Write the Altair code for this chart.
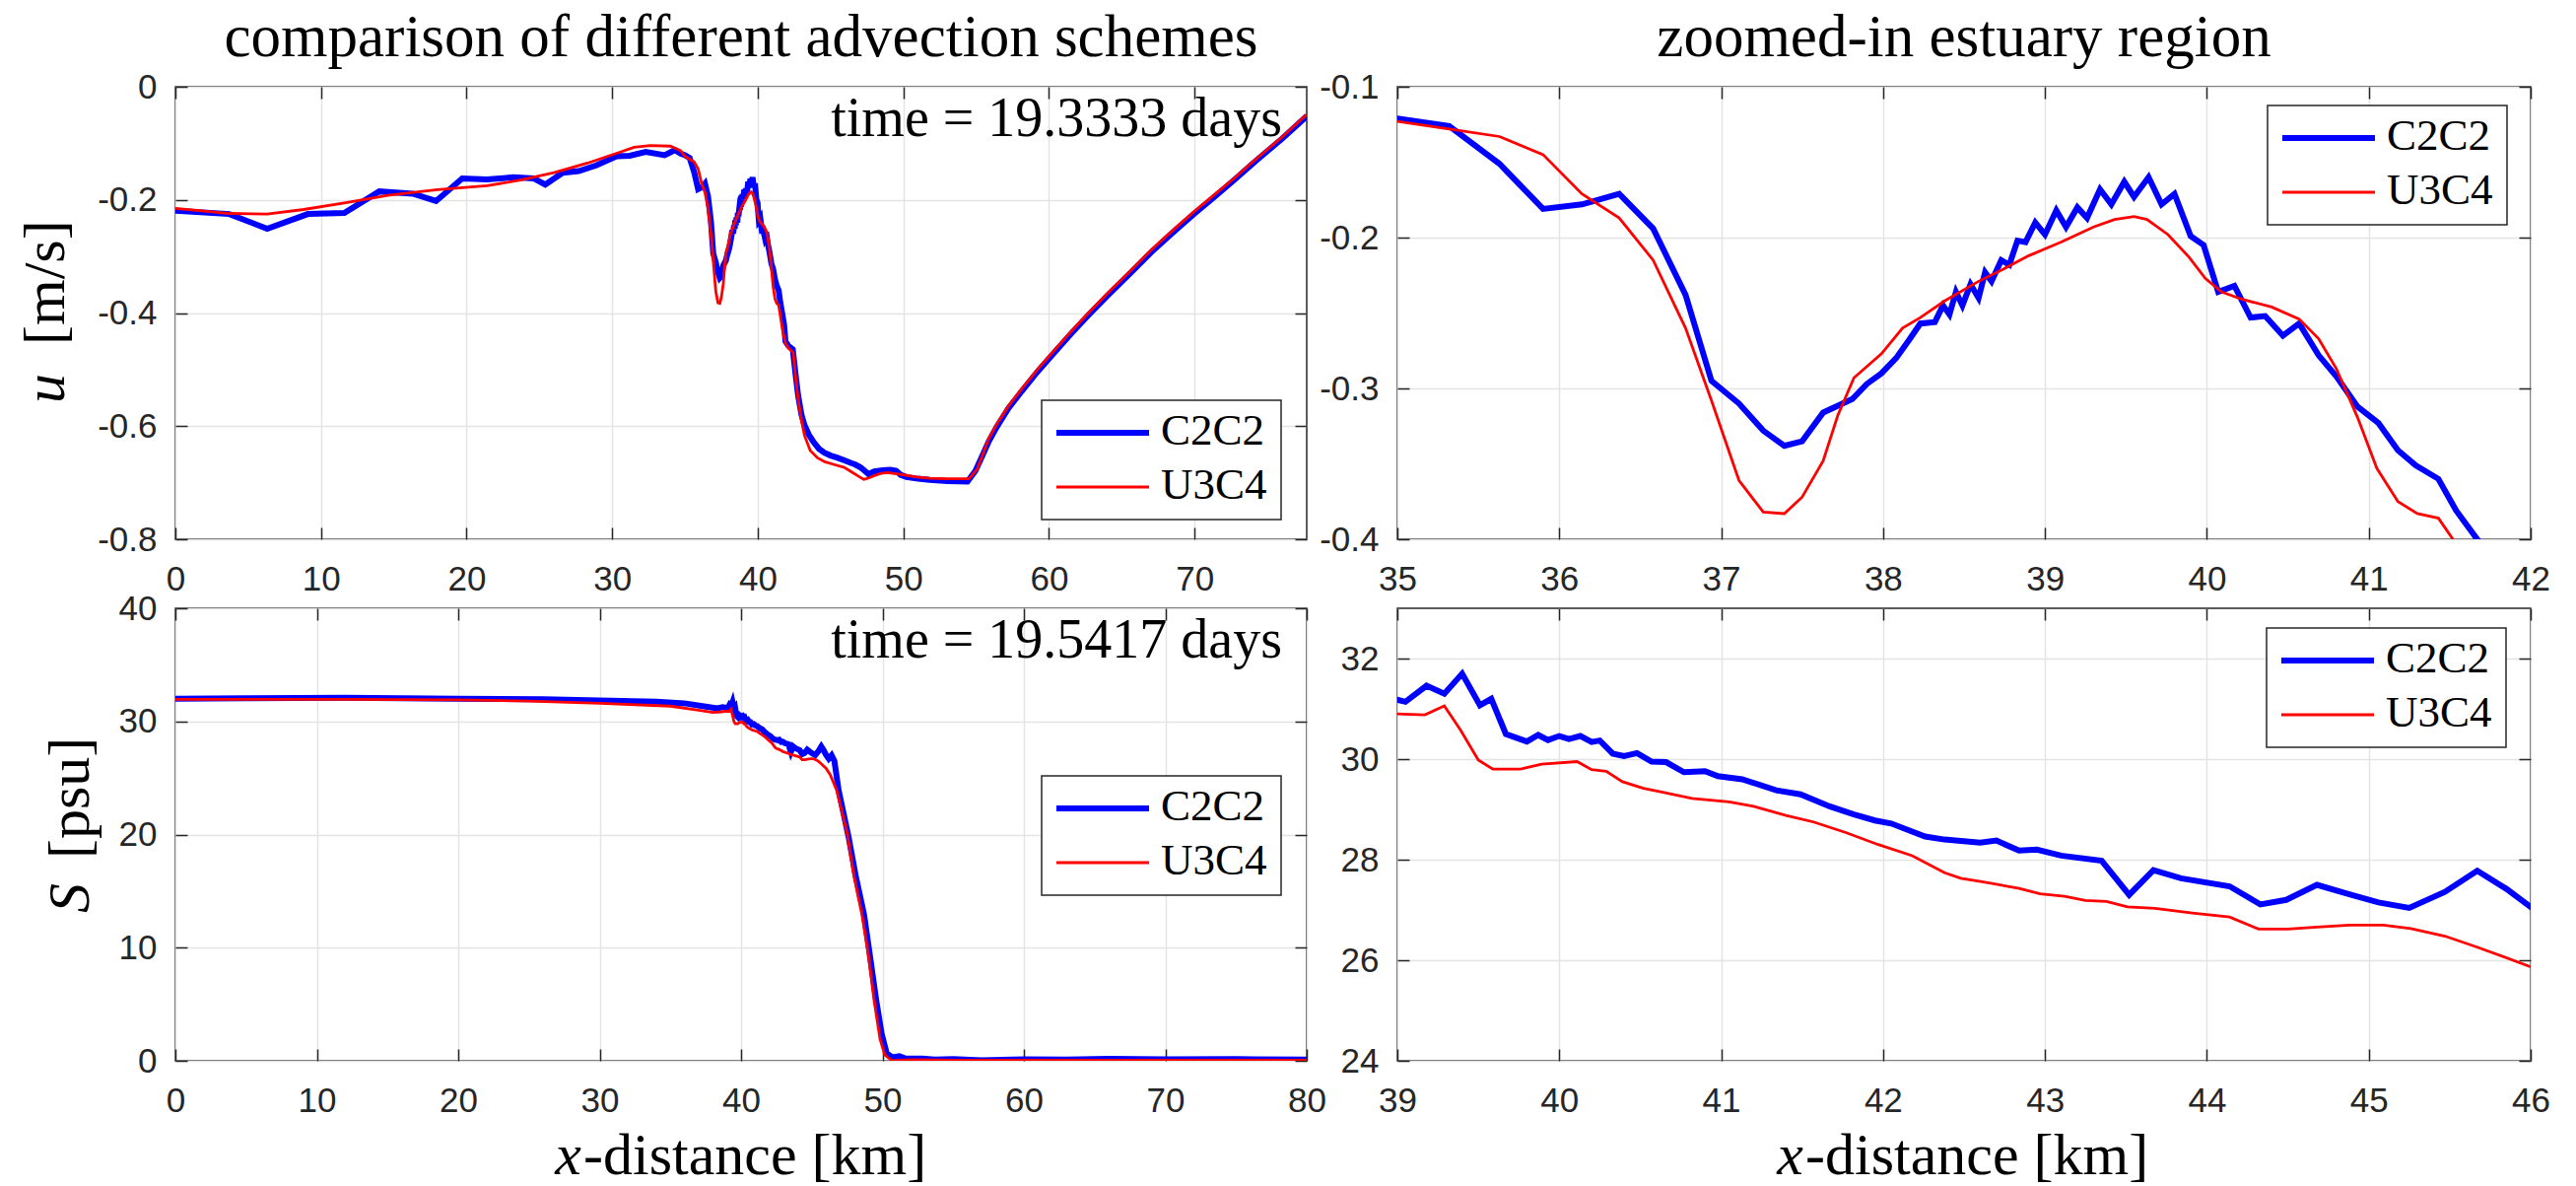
import altair as alt
import pandas as pd

# ---------------- data ----------------
# depth-averaged velocity u [m/s] along the channel, scheme C2C2
u_c2c2_x = [0, 3.7, 6.3, 9.1, 11.6, 14.0, 16.3, 17.9, 19.7, 21.4, 23.2, 24.6, 25.4, 26.6,
            27.7, 28.9, 30.3, 31.2, 32.3, 33.6, 34.3, 34.7,
            35.0, 35.32, 35.63, 35.9, 36.14, 36.37, 36.58, 36.78, 36.94, 37.11, 37.26, 37.39,
            37.5, 37.63, 37.81, 37.9, 37.99, 38.08, 38.16, 38.23, 38.32, 38.37, 38.41, 38.45,
            38.49, 38.54, 38.59, 38.63, 38.67, 38.73, 38.78, 38.83, 38.88, 38.94, 39.0, 39.07,
            39.13, 39.2, 39.26, 39.34, 39.41, 39.49, 39.55, 39.64, 39.72, 39.8, 39.9, 39.98,
            40.07, 40.12, 40.17, 40.27, 40.36, 40.47, 40.57, 40.69, 40.8, 40.93, 41.06, 41.18,
            41.29, 41.43, 41.54, 41.67, 41.8, 41.9, 42.1, 42.4, 42.6, 42.77, 43.0, 43.2, 43.5,
            43.8, 44.2, 44.57, 45.0, 45.48, 46.0, 46.38, 46.7, 47.05, 47.3, 47.6, 48.0, 48.6,
            49.1, 49.5, 49.8, 50.2, 51.0, 51.8, 53.0, 54.4, 54.95, 55.5, 55.86, 56.4, 57.2,
            58.1, 59.2, 60.4, 61.5, 62.7, 64.1, 65.6, 67.0, 68.4, 69.9, 71.3, 72.8, 74.2,
            76.0, 77.7]
u_c2c2 = [-0.219, -0.225, -0.251, -0.225, -0.223, -0.185, -0.189, -0.202, -0.162, -0.164,
          -0.160, -0.162, -0.173, -0.152, -0.149, -0.139, -0.123, -0.122, -0.115, -0.121,
          -0.112, -0.118,
          -0.121, -0.126, -0.151, -0.181, -0.178, -0.171, -0.194, -0.238, -0.295, -0.310,
          -0.328, -0.338, -0.335, -0.316, -0.307, -0.297, -0.290, -0.280, -0.268, -0.257,
          -0.256, -0.245, -0.251, -0.236, -0.245, -0.231, -0.240, -0.223, -0.229, -0.215,
          -0.218, -0.202, -0.203, -0.190, -0.198, -0.182, -0.193, -0.180, -0.187, -0.168,
          -0.178, -0.163, -0.173, -0.160, -0.178, -0.171, -0.199, -0.205, -0.236, -0.234,
          -0.232, -0.253, -0.252, -0.265, -0.257, -0.278, -0.292, -0.312, -0.323, -0.341,
          -0.351, -0.360, -0.381, -0.400, -0.420, -0.450, -0.458, -0.464, -0.510, -0.546,
          -0.580, -0.598, -0.615, -0.627, -0.640, -0.647, -0.652, -0.656, -0.661, -0.665,
          -0.668, -0.673, -0.678, -0.685, -0.680, -0.678, -0.677, -0.679, -0.686, -0.690,
          -0.693, -0.695, -0.697, -0.698, -0.679, -0.648, -0.627, -0.602, -0.569, -0.539,
          -0.504, -0.469, -0.437, -0.404, -0.367, -0.329, -0.293, -0.260, -0.226, -0.196,
          -0.163, -0.131, -0.092, -0.052]

# depth-averaged velocity u [m/s], scheme U3C4
u_u3c4_x = [0, 2.0, 3.7, 6.3, 8.8, 11.7, 14.6, 18.0, 21.4, 23.7, 26.0, 28.3, 30.6, 31.5,
            32.6, 34.0, 34.7, 35.0, 35.32, 35.63, 35.9, 36.14, 36.37, 36.58, 36.78, 36.94,
            37.11, 37.26, 37.39, 37.5, 37.63, 37.72, 37.82, 37.99, 38.12, 38.23, 38.38, 38.59,
            38.74, 38.9, 39.1, 39.3, 39.43, 39.55, 39.63, 39.76, 39.89, 39.99, 40.09, 40.22,
            40.4, 40.57, 40.69, 40.8, 40.93, 41.05, 41.18, 41.3, 41.43, 41.52, 41.7, 41.9,
            42.1, 42.43, 42.6, 42.77, 43.0, 43.2, 43.6, 44.1, 44.6, 45.25, 45.93, 46.5, 47.0,
            47.28, 47.6, 47.96, 48.4, 48.86, 49.4, 50.0, 50.9, 51.8, 53.0, 54.5, 55.07, 55.86,
            56.4, 57.2, 58.1, 59.2, 60.4, 61.5, 62.7, 64.1, 65.6, 67.0, 68.4, 69.9, 71.3,
            72.8, 74.2, 76.0, 77.7]
u_u3c4 = [-0.215, -0.220, -0.224, -0.225, -0.217, -0.205, -0.192, -0.182, -0.175, -0.165,
          -0.152, -0.135, -0.115, -0.107, -0.104, -0.105, -0.113, -0.123, -0.128, -0.133,
          -0.145, -0.171, -0.187, -0.215, -0.260, -0.308, -0.361, -0.382, -0.383, -0.372,
          -0.348, -0.318, -0.293, -0.277, -0.260, -0.253, -0.242, -0.229, -0.221, -0.212,
          -0.203, -0.193, -0.188, -0.186, -0.188, -0.198, -0.213, -0.227, -0.236, -0.241,
          -0.246, -0.254, -0.267, -0.287, -0.319, -0.353, -0.375, -0.383, -0.386, -0.400,
          -0.430, -0.453, -0.462, -0.470, -0.515, -0.552, -0.590, -0.616, -0.643, -0.656,
          -0.663, -0.668, -0.673, -0.682, -0.690, -0.694, -0.692, -0.688, -0.684, -0.682,
          -0.684, -0.686, -0.690, -0.692, -0.693, -0.693, -0.676, -0.622, -0.597, -0.565,
          -0.535, -0.500, -0.465, -0.433, -0.400, -0.363, -0.325, -0.289, -0.256, -0.222,
          -0.192, -0.160, -0.128, -0.089, -0.049]

# salinity S [psu], scheme C2C2
s_c2c2_x = [0, 5, 12, 20, 26, 30, 34, 36, 37.5, 38.3, 38.7,
            39.0, 39.05, 39.18, 39.29, 39.40, 39.51, 39.58, 39.67, 39.8, 39.87, 39.93, 40.0,
            40.06, 40.13, 40.2, 40.25, 40.33, 40.4, 40.48, 40.57, 40.66, 40.77, 40.9, 40.98,
            41.13, 41.34, 41.49, 41.67, 41.82, 41.95, 42.05, 42.26, 42.38, 42.6, 42.7, 42.84,
            42.95, 43.1, 43.35, 43.52, 43.67, 43.84, 44.14, 44.33, 44.49, 44.68, 44.88, 45.06,
            45.25, 45.47, 45.67, 45.85, 46.0, 46.2, 46.4, 46.6, 46.9, 47.6, 48.1, 48.7, 49.1,
            49.55, 49.94, 50.3, 50.7, 51.2, 51.65, 52.8, 53.7, 55, 57, 60, 63, 66, 70, 75, 80]
s_c2c2 = [32.0, 32.05, 32.1, 32.0, 31.95, 31.85, 31.75, 31.6, 31.3, 31.15, 31.25,
          31.18, 31.14, 31.46, 31.30, 31.70, 31.07, 31.2, 30.5, 30.35, 30.48, 30.38, 30.46,
          30.40, 30.46, 30.34, 30.37, 30.11, 30.06, 30.12, 29.95, 29.94, 29.74, 29.76, 29.66,
          29.6, 29.38, 29.30, 29.06, 28.9, 28.78, 28.72, 28.46, 28.40, 28.34, 28.38, 28.18,
          28.2, 28.08, 27.98, 27.3, 27.79, 27.63, 27.47, 27.11, 27.2, 27.5, 27.31, 27.15,
          27.04, 27.36, 27.78, 27.42, 27.06, 26.7, 27.0, 26.5, 23.9, 19.8, 16.4, 12.9, 9.4,
          5.4, 2.4, 0.65, 0.3, 0.4, 0.2, 0.2, 0.1, 0.15, 0.05, 0.12, 0.1, 0.18, 0.12, 0.15, 0.1]

# salinity S [psu], scheme U3C4
s_u3c4_x = [0, 12, 20, 25, 30, 35, 37, 38, 38.6,
            39.0, 39.17, 39.29, 39.39, 39.5, 39.59, 39.76, 39.89, 40.11, 40.2, 40.29, 40.39,
            40.52, 40.64, 40.82, 41.05, 41.2, 41.4, 41.57, 41.77, 41.97, 42.18, 42.38, 42.48,
            42.63, 42.84, 42.97, 43.12, 43.25, 43.38, 43.51, 43.68, 43.91, 44.14, 44.32, 44.5,
            44.68, 44.88, 45.09, 45.26, 45.47, 45.67, 46.0, 46.3, 46.5, 46.76, 47.5, 47.97,
            48.55, 49.0, 49.4, 49.83, 50.17, 50.7, 51.9, 55, 60, 70, 80]
s_u3c4 = [31.95, 31.95, 31.9, 31.8, 31.6, 31.35, 31.0, 30.8, 30.85,
          30.9, 30.88, 31.06, 30.58, 29.98, 29.8, 29.8, 29.9, 29.95, 29.79, 29.76, 29.55,
          29.42, 29.34, 29.22, 29.15, 29.06, 28.88, 28.75, 28.54, 28.3, 28.08, 27.74, 27.63,
          27.55, 27.43, 27.32, 27.27, 27.19, 27.17, 27.06, 27.03, 26.94, 26.86, 26.62, 26.62,
          26.66, 26.7, 26.7, 26.63, 26.48, 26.26, 25.87, 25.3, 24.7, 23.9, 20.1, 16.4,
          12.9, 9.4, 5.4, 1.9, 0.5, 0.0, 0.1, 0.05, 0.05, 0.05, 0.05]

SERIES = ["C2C2", "U3C4"]
COLORS = ["#0000ff", "#ff0000"]
WIDTHS = [6, 2.8]

TITLES = ["comparison of different advection schemes", "zoomed-in estuary region"]
NOTES = ["time = 19.3333 days", "time = 19.5417 days"]

# ---------------- style ----------------
AX = "#262626"
GRID = "#e4e4e4"
SERIF = "Liberation Serif"
SANS = "Liberation Sans"
TICK_FS = 35
TEX_FS = 60

W_L, W_R, H = 1148, 1150, 459


def yfmt(dec):
    return ("datum.value == 0 ? '0' : (datum.value < 0 ? '-' : '') + "
            f"format(abs(datum.value), '.{dec}f')")


def one(text):
    return pd.DataFrame({"t": [text]})


def legend(x0, y0):
    parts = [
        alt.Chart(one("box")).mark_rect(fill="white", stroke=AX, strokeWidth=1.5).encode(
            x=alt.value(x0), x2=alt.value(x0 + 243), y=alt.value(y0), y2=alt.value(y0 + 121))
    ]
    for i, (name, col, sw) in enumerate(zip(SERIES, COLORS, WIDTHS)):
        yy = y0 + 33 + 55 * i
        df = pd.DataFrame({"series": [name]})
        parts.append(alt.Chart(df).mark_rule(color=col, strokeWidth=sw).encode(
            x=alt.value(x0 + 15), x2=alt.value(x0 + 109), y=alt.value(yy)))
        parts.append(alt.Chart(df).mark_text(align="left", baseline="middle", font=SERIF,
                                             fontSize=45, color="black").encode(
            x=alt.value(x0 + 121), y=alt.value(yy - 2), text="series:N"))
    return parts


def label_pair(first, rest, x, y_first, y_rest, vertical):
    """Axis label made of an italic symbol followed by upright units."""
    if vertical:
        a = alt.Chart(one(first)).mark_text(angle=270, align="right", baseline="alphabetic",
                                            font=SERIF, fontSize=TEX_FS, fontStyle="italic",
                                            color="black").encode(
            x=alt.value(x), y=alt.value(y_first), text="t:N")
        b = alt.Chart(one(rest)).mark_text(angle=270, align="left", baseline="alphabetic",
                                           font=SERIF, fontSize=TEX_FS, color="black").encode(
            x=alt.value(x), y=alt.value(y_rest), text="t:N")
    else:
        a = alt.Chart(one(first)).mark_text(align="right", baseline="alphabetic",
                                            font=SERIF, fontSize=TEX_FS, fontStyle="italic",
                                            color="black").encode(
            x=alt.value(y_first), y=alt.value(x), text="t:N")
        b = alt.Chart(one(rest)).mark_text(align="left", baseline="alphabetic",
                                           font=SERIF, fontSize=TEX_FS, color="black").encode(
            x=alt.value(y_rest), y=alt.value(x), text="t:N")
    return [a, b]


def heading(text, w):
    return alt.Chart(one(text)).mark_text(align="center", baseline="alphabetic", font=SERIF,
                                          fontSize=61, color="black").encode(
        x=alt.value(w / 2), y=alt.value(-31), text="t:N")


def note(text):
    return alt.Chart(one(text)).mark_text(align="right", baseline="alphabetic", font=SERIF,
                                          fontSize=56, color="black").encode(
        x=alt.value(1123), y=alt.value(50), text="t:N")


def panel(bx, by, rx, ry, xdom, xvals, ydom, yvals, ydec, w, leg, extra):
    xs = alt.Scale(domain=xdom, nice=False, zero=False)
    ys = alt.Scale(domain=ydom, nice=False, zero=False)
    inward = dict(offset=-12, tickSize=12, tickWidth=1.5, tickColor=AX, domain=False)
    xa = alt.Axis(orient="bottom", values=xvals, grid=True, gridColor=GRID, gridWidth=1.5,
                  labelFont=SANS, labelFontSize=TICK_FS, labelColor=AX, labelPadding=23,
                  labelFlush=False, labelOverlap=False, title=None, **inward)
    ya = alt.Axis(orient="left", values=yvals, grid=True, gridColor=GRID, gridWidth=1.5,
                  labelFont=SANS, labelFontSize=TICK_FS, labelColor=AX, labelPadding=19,
                  labelExpr=yfmt(ydec), labelOverlap=False, title=None, **inward)
    xt = alt.Axis(orient="top", values=xvals, grid=False, labels=False, title=None, **inward)
    yt = alt.Axis(orient="right", values=yvals, grid=False, labels=False, title=None, **inward)

    # keep only the stretch of each profile that falls inside (or just beside) this window
    lo, hi = xdom[0] - 0.6, xdom[1] + 0.6
    keep = (alt.datum.x >= lo) & (alt.datum.x <= hi)

    blue = alt.Chart(pd.DataFrame({"x": bx, "v": by})).transform_filter(keep).mark_line(
        color=COLORS[0], strokeWidth=WIDTHS[0], clip=True).encode(
        x=alt.X("x:Q", scale=xs, axis=xa), y=alt.Y("v:Q", scale=ys, axis=ya))
    red = alt.Chart(pd.DataFrame({"x": rx, "v": ry})).transform_filter(keep).mark_line(
        color=COLORS[1], strokeWidth=WIDTHS[1], clip=True).encode(
        x=alt.X("x:Q", scale=xs, axis=xt), y=alt.Y("v:Q", scale=ys, axis=yt))

    layers = [blue, red] + extra + legend(*leg)
    return alt.layer(*layers).resolve_axis(x="independent", y="independent").properties(
        width=w, height=H)


tl = panel(u_c2c2_x, u_c2c2, u_u3c4_x, u_u3c4, [0, 77.7], list(range(0, 80, 10)),
           [-0.8, 0], [0, -0.2, -0.4, -0.6, -0.8], 1, W_L, (879, 318),
           [heading(TITLES[0], W_L), note(NOTES[0])]
           + label_pair("u", "[m/s]", -113, 291, 262, True))
tr = panel(u_c2c2_x, u_c2c2, u_u3c4_x, u_u3c4, [35, 42], list(range(35, 43)),
           [-0.4, -0.1], [-0.1, -0.2, -0.3, -0.4], 1, W_R, (883, 19),
           [heading(TITLES[1], W_R)])
bl = panel(s_c2c2_x, s_c2c2, s_u3c4_x, s_u3c4, [0, 80], list(range(0, 90, 10)),
           [0, 40], [0, 10, 20, 30, 40], 0, W_L, (879, 170),
           [note(NOTES[1])] + label_pair("S", "[psu]", -88, 279, 254, True)
           + label_pair("x", "-distance [km]", 574, 412, 414, False))
br = panel(s_c2c2_x, s_c2c2, s_u3c4_x, s_u3c4, [39, 46], list(range(39, 47)),
           [24, 33], [24, 26, 28, 30, 32], 0, W_R, (882, 20),
           label_pair("x", "-distance [km]", 574, 412, 414, False))

chart = alt.concat(tl, tr, bl, br, columns=2, spacing={"row": 70, "column": 92},
                   bounds="flush").properties(
    padding={"left": 16, "top": 7, "right": 0, "bottom": 0},
    background="white",
).configure_view(stroke=AX, strokeWidth=1.5)

chart.save("out.html", embed_options={"renderer": "svg", "actions": False})
